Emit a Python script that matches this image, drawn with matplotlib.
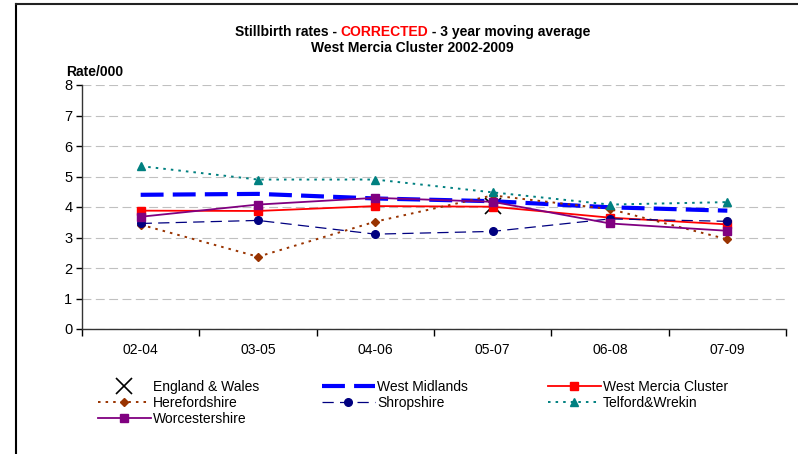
import numpy as np
import matplotlib
matplotlib.use("Agg")
import matplotlib.pyplot as plt
from matplotlib.lines import Line2D

plt.rcParams['font.family'] = ['Liberation Sans', 'DejaVu Sans']

periods = ["02-04", "03-05", "04-06", "05-07", "06-08", "07-09"]

# England & Wales only has a value for 05-07
england_wales = [np.nan, np.nan, np.nan, 4.03, np.nan, np.nan]
west_midlands = [4.40, 4.43, 4.28, 4.19, 3.99, 3.88]
west_mercia = [3.88, 3.87, 4.03, 4.01, 3.65, 3.43]
herefordshire = [3.42, 2.37, 3.52, 4.38, 3.93, 2.94]
shropshire = [3.46, 3.56, 3.11, 3.20, 3.61, 3.53]
telford = [5.34, 4.90, 4.90, 4.48, 4.08, 4.16]
worcestershire = [3.68, 4.08, 4.30, 4.17, 3.46, 3.22]

W, H = 798, 454
fig = plt.figure(figsize=(W / 100, H / 100), dpi=100)
ax = fig.add_axes([82 / W, 1 - 329 / H, (786 - 82) / W, (329 - 85) / H])

x = np.arange(len(periods))

ax.plot(x, england_wales, linestyle='none', marker='x', color='black',
        markersize=11, markeredgewidth=1.2, label='England & Wales')
ax.plot(x, west_midlands, color='#0000ff', lw=3, dashes=(5.5, 2.2),
        label='West Midlands')
ax.plot(x, west_mercia, color='#ff0000', lw=1.3, marker='s', markersize=6,
        label='West Mercia Cluster')
ax.plot(x, herefordshire, color='#993300', lw=1.4, dashes=(1.3, 2.6),
        marker='D', markersize=4, label='Herefordshire')
ax.plot(x, shropshire, color='#000080', lw=0.9, dashes=(9, 5),
        marker='o', markersize=5.5, label='Shropshire')
ax.plot(x, telford, color='#008080', lw=1.4, dashes=(1.3, 2.6),
        marker='^', markersize=6, label='Telford&Wrekin')
ax.plot(x, worcestershire, color='#800080', lw=1.3, marker='s', markersize=6,
        label='Worcestershire')

ax.set_xlim(-0.5, len(periods) - 0.5)
ax.set_ylim(0, 8)
ax.set_yticks(range(0, 9))
ax.yaxis.grid(True, color='#c0c0c0', lw=0.8, dashes=(8, 4))
ax.set_axisbelow(True)

ax.set_xticks(np.arange(-0.5, len(periods), 1.0))
ax.set_xticklabels([])
ax.set_xticks(x, minor=True)
ax.set_xticklabels(periods, minor=True)
ax.tick_params(axis='x', which='major', direction='out', length=5, width=1)
ax.tick_params(axis='x', which='minor', length=0, pad=10, labelsize=10)
ax.tick_params(axis='y', direction='out', length=4, width=1, labelsize=10.5, pad=3)

for s in ['top', 'right']:
    ax.spines[s].set_visible(False)
for s in ['left', 'bottom']:
    ax.spines[s].set_color('#333333')
    ax.spines[s].set_linewidth(1)

fig.text(66 / W, 1 - 72 / H, "Rate/000", fontsize=10, fontweight='bold',
         va='center', ha='left')

# title with coloured middle word
fig.canvas.draw()
r = fig.canvas.get_renderer()
parts = [("Stillbirth rates - ", 'black'), ("CORRECTED", '#ff0000'),
         (" - 3 year moving average", 'black')]
texts = [fig.text(0, 1 - 32 / H, p, color=c, fontsize=10, fontweight='bold',
                  va='center', ha='left') for p, c in parts]
widths = [t.get_window_extent(r).width for t in texts]
xpos = 412.5 - sum(widths) / 2
for t, w in zip(texts, widths):
    t.set_x(xpos / W)
    xpos += w
fig.text(412.5 / W, 1 - 48 / H, "West Mercia Cluster 2002-2009", fontsize=10,
         fontweight='bold', va='center', ha='center')

# legend: three columns, each its own legend so columns sit where they do in the original
handles, labels = ax.get_legend_handles_labels()
columns = [([0, 3, 6], 98), ([1, 4], 322), ([2, 5], 548)]
for idx, left in columns:
    fig.legend([handles[i] for i in idx], [labels[i] for i in idx],
               loc='upper left', bbox_to_anchor=(left / W, 1 - 380 / H),
               frameon=False, fontsize=10, handlelength=3.8, handletextpad=0.15,
               labelspacing=0.15, borderaxespad=0, borderpad=0)

# chart frame
fig.add_artist(Line2D([16 / W, 16 / W], [0, 1 - 4 / H], color='black', lw=1.5))
fig.add_artist(Line2D([16 / W, 1], [1 - 4 / H, 1 - 4 / H], color='#222222', lw=1.5))

fig.savefig("out.png", dpi=100)
